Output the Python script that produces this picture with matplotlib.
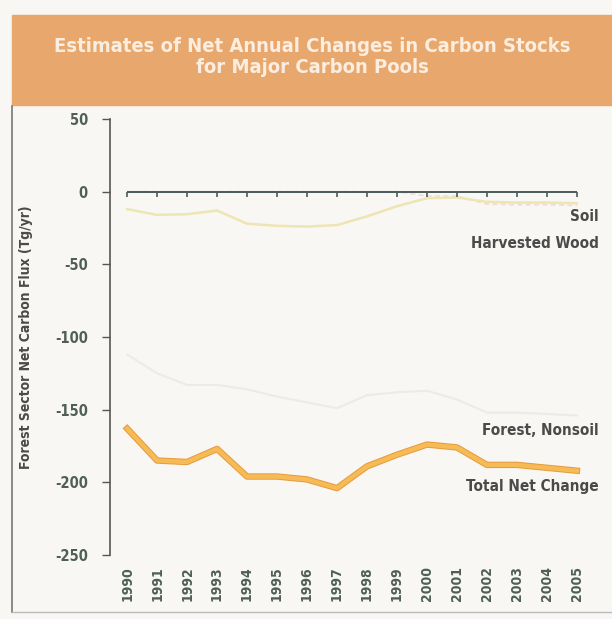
import matplotlib.pyplot as plt
import matplotlib.patheffects as pe
from matplotlib.patches import Rectangle
from matplotlib.lines import Line2D

years = list(range(1990, 2006))
total_net = [-163, -185, -186, -177, -196, -196, -198, -204,
             -189, -181, -174, -176, -188, -188, -190, -192]
forest_nonsoil = [-112, -125, -133, -133, -136, -141, -145, -149,
                  -140, -138, -137, -143, -152, -152, -153, -154]
harvested_wood = [-12, -16, -15.5, -13, -22, -23.5, -24, -23,
                  -17, -10, -4.5, -4, -7, -7.5, -7.5, -8]
soil = [0, 0, 0, 0, 0, 0, 0, 0,
        0, 0, -3, -3, -8.5, -9, -9, -9.5]
yticks = [50, 0, -50, -100, -150, -200, -250]

title = "Estimates of Net Annual Changes in Carbon Stocks\nfor Major Carbon Pools"
ylabel = "Forest Sector Net Carbon Flux (Tg/yr)"

fk = dict(family="DejaVu Sans", fontstretch="condensed", fontweight="bold")
tick_col = "#4f5f57"
text_col = "#4a4a4a"

fig = plt.figure(figsize=(6.12, 6.19), dpi=100)
fig.patch.set_facecolor("#f8f7f3")

# header band and frame
fig.patches.append(Rectangle((12 / 612, 1 - 105 / 619), 600 / 612, 90 / 619,
                             transform=fig.transFigure, color="#e8a76c", zorder=0))
fig.text(0.5 + 6 / 612, 1 - 57 / 619, title, ha="center", va="center",
         fontsize=14.5, color="#fbeee0", linespacing=1.1, **fk)
fig.add_artist(Line2D([12 / 612, 12 / 612], [1 - 106 / 619, 1 - 612 / 619],
                      transform=fig.transFigure, color="#777777", lw=1.2))
fig.add_artist(Line2D([12 / 612, 1], [1 - 612 / 619, 1 - 612 / 619],
                      transform=fig.transFigure, color="#bbbbbb", lw=1))

ax = fig.add_axes([110 / 612, 1 - 555 / 619, 490 / 612, 436 / 619])
ax.set_facecolor("none")
ax.set_xlim(1989.43, 2005.77)
ax.set_ylim(-250, 50)

ax.plot(years, forest_nonsoil, color="#ebebe8", lw=1.5)
ax.plot(years, soil, color="#f0dcd4", lw=1.2, ls=(0, (3, 2)))
ax.plot(years, harvested_wood, color="#ede5b4", lw=1.8)
ax.plot(years, total_net, color="#f6bb55", lw=3.2, solid_joinstyle="round",
        path_effects=[pe.Stroke(linewidth=4.6, foreground="#e59a3e"), pe.Normal()])

# zero axis with ticks hanging down
ax.hlines(0, years[0], years[-1], color="#4a5a58", lw=1.4, zorder=3)
ax.vlines(years, -4, 0, color="#4a5a58", lw=1.2, zorder=3)

for s in ["top", "right", "bottom"]:
    ax.spines[s].set_visible(False)
ax.spines["left"].set_color("#555555")
ax.spines["left"].set_linewidth(1.2)
ax.set_yticks(yticks)
ax.set_yticklabels([str(v) for v in yticks], fontsize=10.5, color=tick_col, **fk)
ax.tick_params(axis="y", length=6, width=1, color="#555555", pad=10)
ax.set_xticks(years)
ax.set_xticklabels([str(y) for y in years], rotation=90, fontsize=10,
                   color=tick_col, **fk)
ax.tick_params(axis="x", length=0, pad=8)

ax.set_ylabel(ylabel, fontsize=10, color=text_col, labelpad=16, **fk)

for label, yv in [("Soil", -17), ("Harvested Wood", -36),
                  ("Forest, Nonsoil", -164), ("Total Net Change", -203)]:
    ax.text(2005.72, yv, label, ha="right", va="center", fontsize=11,
            color=text_col, **fk)

fig.savefig("out.png", dpi=100, facecolor=fig.get_facecolor())
